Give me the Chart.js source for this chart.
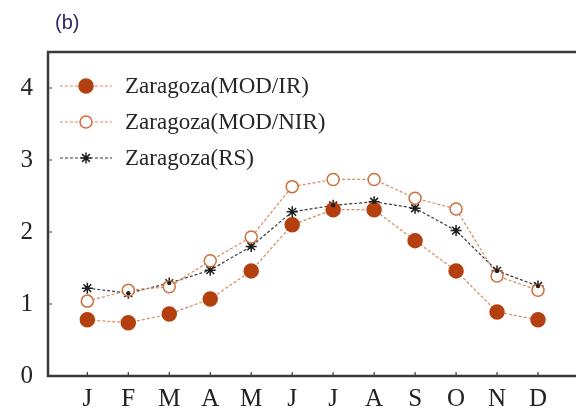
<!DOCTYPE html>
<html>
<head>
<meta charset="utf-8">
<script src="https://cdn.jsdelivr.net/npm/chart.js@4/dist/chart.umd.min.js"></script>
<style>
  html, body { margin: 0; padding: 0; background: #fff; }
  #wrap { width: 576px; height: 414px; position: relative; }
</style>
</head>
<body>
<div id="wrap"><canvas id="aodChart"></canvas></div>
<script>
const months = ["J", "F", "M", "A", "M", "J", "J", "A", "S", "O", "N", "D"];
const modIR  = [0.78, 0.74, 0.86, 1.07, 1.46, 2.10, 2.31, 2.31, 1.88, 1.46, 0.89, 0.78];
const modNIR = [1.04, 1.19, 1.24, 1.60, 1.93, 2.63, 2.73, 2.73, 2.47, 2.32, 1.39, 1.19];
const rs     = [1.22, 1.15, 1.29, 1.47, 1.80, 2.28, 2.37, 2.42, 2.33, 2.02, 1.46, 1.25];
const seriesNames = ["Zaragoza(MOD/IR)", "Zaragoza(MOD/NIR)", "Zaragoza(RS)"];
const yTicks = [0, 1, 2, 3, 4];

const serif = "'Liberation Serif', 'DejaVu Serif', serif";
const axisColor = "#3a3a3a";

const toPoints = vals => vals.map((v, i) => ({ x: i, y: v }));

const styles = [
    { line: "#d98a62", point: "#b3400e", fill: "#b3400e", style: "circle", r: 7 },
    { line: "#d98a62", point: "#cf6e3c", fill: "#ffffff", style: "circle", r: 6 },
    { line: "#3c3c3c", point: "#1e1e1e", fill: "#1e1e1e", style: "star", r: 5.5 }
];

// small dark blob in the middle of the asterisk markers
const starCentres = {
    id: "starCentres",
    afterDatasetsDraw(chart) {
        const ctx = chart.ctx;
        ctx.save();
        ctx.fillStyle = "#1e1e1e";
        chart.getDatasetMeta(2).data.forEach(pt => {
            ctx.beginPath();
            ctx.arc(pt.x, pt.y, 2.2, 0, Math.PI * 2);
            ctx.fill();
        });
        ctx.restore();
    }
};

// frame, inward tick marks, in-plot legend and panel label
const decorations = {
    id: "decorations",
    afterDraw(chart) {
        const ctx = chart.ctx;
        const area = chart.chartArea;
        const xs = chart.scales.x;
        const ys = chart.scales.y;
        ctx.save();

        ctx.strokeStyle = axisColor;
        ctx.lineWidth = 2.5;
        ctx.setLineDash([]);
        ctx.beginPath();
        ctx.moveTo(chart.width, area.top);
        ctx.lineTo(area.left, area.top);
        ctx.lineTo(area.left, area.bottom);
        ctx.lineTo(chart.width, area.bottom);
        ctx.stroke();

        ctx.lineWidth = 1.2;
        ctx.beginPath();
        months.forEach((m, i) => {
            const px = xs.getPixelForValue(i);
            ctx.moveTo(px, area.bottom);
            ctx.lineTo(px, area.bottom - 4);
        });
        yTicks.slice(1).forEach(v => {
            const py = ys.getPixelForValue(v);
            ctx.moveTo(area.left, py);
            ctx.lineTo(area.left + 4, py);
        });
        ctx.stroke();

        // legend
        seriesNames.forEach((name, i) => {
            const s = styles[i];
            const cy = 86 + i * 36;
            ctx.strokeStyle = s.line;
            ctx.lineWidth = 1.2;
            ctx.setLineDash([3, 2]);
            ctx.beginPath();
            ctx.moveTo(60, cy);
            ctx.lineTo(112, cy);
            ctx.stroke();
            ctx.setLineDash([]);
            ctx.strokeStyle = s.point;
            ctx.fillStyle = s.fill;
            ctx.lineWidth = 1.5;
            if (s.style === "circle") {
                ctx.beginPath();
                ctx.arc(86, cy, s.r, 0, Math.PI * 2);
                ctx.fill();
                ctx.stroke();
            } else {
                ctx.beginPath();
                for (let k = 0; k < 4; k++) {
                    const a = k * Math.PI / 4;
                    ctx.moveTo(86 - Math.cos(a) * s.r, cy - Math.sin(a) * s.r);
                    ctx.lineTo(86 + Math.cos(a) * s.r, cy + Math.sin(a) * s.r);
                }
                ctx.stroke();
                ctx.beginPath();
                ctx.arc(86, cy, 2.2, 0, Math.PI * 2);
                ctx.fill();
            }
            ctx.fillStyle = "#262626";
            ctx.font = "23px " + serif;
            ctx.textAlign = "left";
            ctx.textBaseline = "middle";
            ctx.fillText(name, 125, cy + 1);
        });

        ctx.fillStyle = "#2d2a66";
        ctx.font = "20px 'Liberation Sans', Arial, sans-serif";
        ctx.textAlign = "left";
        ctx.textBaseline = "middle";
        ctx.fillText("(b)", 55, 23);
        ctx.restore();
    }
};

const datasets = [modIR, modNIR, rs].map((vals, i) => ({
    label: seriesNames[i],
    data: toPoints(vals),
    borderColor: styles[i].line,
    borderWidth: 1.2,
    borderDash: [3, 2],
    pointStyle: styles[i].style,
    pointRadius: styles[i].r,
    pointBorderWidth: 1.5,
    pointBorderColor: styles[i].point,
    pointBackgroundColor: styles[i].fill,
    tension: 0
}));

new Chart(document.getElementById("aodChart"), {
    type: "line",
    data: { datasets: datasets },
    plugins: [starCentres, decorations],
    options: {
        responsive: true,
        maintainAspectRatio: false,
        animation: false,
        layout: { padding: { top: 52, left: 0, right: 0, bottom: 0 } },
        plugins: {
            legend: { display: false },
            title: { display: false },
            tooltip: { enabled: false }
        },
        scales: {
            x: {
                type: "linear",
                min: -0.96,
                max: 11.72,
                afterBuildTicks: scale => { scale.ticks = months.map((m, i) => ({ value: i })); },
                afterFit: scale => { scale.height = 38; },
                grid: { display: false, drawTicks: false },
                border: { display: false },
                ticks: {
                    autoSkip: false,
                    maxRotation: 0,
                    padding: 8,
                    color: "#222",
                    font: { family: serif, size: 25 },
                    callback: v => months[v]
                }
            },
            y: {
                min: 0,
                max: 4.5,
                afterBuildTicks: scale => { scale.ticks = yTicks.map(v => ({ value: v })); },
                afterFit: scale => { scale.width = 48; },
                grid: { display: false, drawTicks: false },
                border: { display: false },
                ticks: {
                    padding: 15,
                    color: "#222",
                    font: { family: serif, size: 25 }
                }
            }
        }
    }
});
</script>
</body>
</html>
